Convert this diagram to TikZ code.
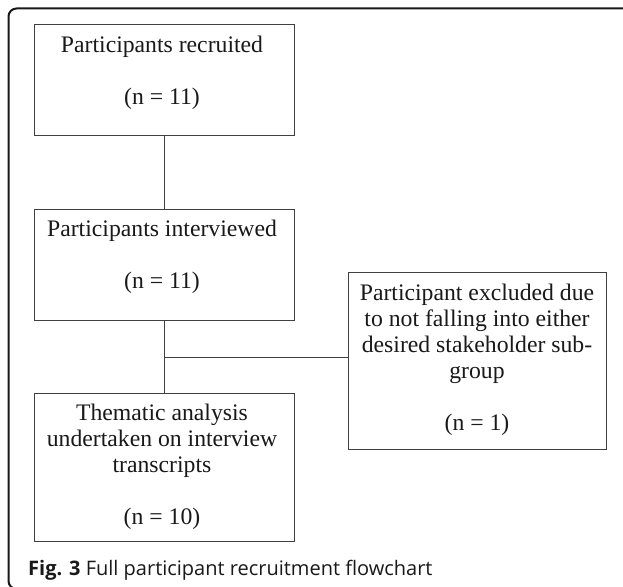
\documentclass[tikz,border=0pt]{standalone}
\usepackage{fontspec}
\setmainfont{Liberation Serif}
\newfontfamily\capfont{Open Sans}
\begin{document}
\begin{tikzpicture}[x=1pt,y=-1pt,
  box/.style={draw=black!75, line width=1pt, inner sep=0pt, outer sep=0pt, anchor=north west},
  txt/.style={font=\fontsize{23.7}{26}\selectfont, align=center, inner sep=0pt, anchor=base, text=black!90},
  conn/.style={draw=black!75, line width=1pt},
  frame/.style={draw=black!90, line width=2pt, rounded corners=8pt}]
\useasboundingbox[fill=white] (0,0) rectangle (623,586);
\begin{scope}
\clip (0,0) rectangle (623,586);
\draw[frame] (700,8.5) -- (8.5,8.5) -- (8.5,589) -- (700,589);
\end{scope}
% boxes
\node[box, minimum width=260pt, minimum height=110.7pt] (b1) at (34,25) {};
\node[box, minimum width=260pt, minimum height=111pt] (b2) at (34,209.6) {};
\node[box, minimum width=260pt, minimum height=147.5pt] (b3) at (34,393.5) {};
\node[box, minimum width=258.4pt, minimum height=176.7pt] (b4) at (348.3,272.3) {};
% texts (anchor = baseline of last line)
\node[txt] (t1) at (162,104.3) {Participants recruited\\[26pt](n = 11)};
\node[txt] (t2) at (162,288.6) {Participants interviewed\\[26pt](n = 11)};
\node[txt] (t3) at (162,524.5) {Thematic analysis\\undertaken on interview\\transcripts\\[26pt](n = 10)};
\node[txt] (t4) at (477,430) {Participant excluded due\\to not falling into either\\desired stakeholder sub-\\group\\[26pt](n = 1)};
% connectors
\coordinate (j) at (164,357.2);
\draw[conn] (b1) -- (b2);
\draw[conn] (b2) -- (b3);
\draw[conn] (j) -- (j -| b4.west);
% caption
\node[font=\capfont\fontsize{20}{24}\selectfont, anchor=base west, inner sep=0pt, text=black!90] (cap) at (28,575) {\textbf{Fig. 3} Full participant recruitment flowchart};
\end{tikzpicture}
\end{document}
